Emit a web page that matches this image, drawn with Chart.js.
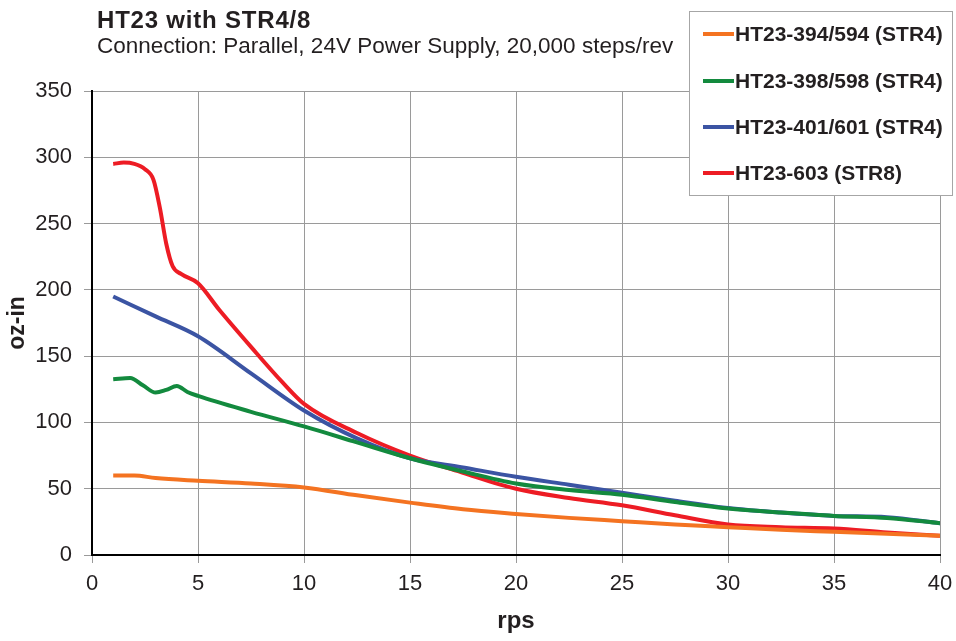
<!DOCTYPE html>
<html>
<head>
<meta charset="utf-8">
<script src="https://cdn.jsdelivr.net/npm/chart.js@4.4.1/dist/chart.umd.min.js"></script>
<style>
  body { margin: 0; background: #fff; }
  #wrap { width: 956px; height: 641px; position: relative; }
</style>
</head>
<body>
<div id="wrap"><canvas id="myChart"></canvas></div>
<script>
'use strict';

// HT23-394/594 (STR4)
let rps394 = [1, 2, 3, 5, 7.5, 10, 12.5, 15, 17.5, 20, 22.5, 25, 27.5, 30, 32.5, 35, 37.5, 40];
let torque394 = [60, 60, 58, 56, 54, 51, 45, 39.5, 34.5, 31, 28, 25.5, 23, 21, 19, 17.5, 16, 14.5];

// HT23-398/598 (STR4)
let rps398 = [1, 1.8, 2.4, 3, 3.5, 4, 4.5, 5, 7.5, 10, 12.5, 15, 17.5, 20, 22.5, 25, 27.5, 30, 32.5, 35, 37.5, 40];
let torque398 = [132.5, 133.5, 128, 122.5, 124.5, 127.5, 123, 120, 108, 97, 85, 73, 63, 54, 49, 45.5, 40, 35, 32, 29.5, 28, 24];

// HT23-401/601 (STR4)
let rps401 = [1, 3, 5, 7.5, 10, 12.5, 15, 17.5, 20, 22.5, 25, 27.5, 30, 32.5, 35, 37.5, 40];
let torque401 = [195, 180, 165, 137, 109, 88, 73, 66, 59, 53, 47, 41, 35.5, 32, 29.5, 28.5, 24];

// HT23-603 (STR8)
let rps603 = [1, 1.5, 2, 2.5, 2.9, 3.2, 3.5, 3.8, 4.2, 5, 6, 7.5, 9, 10, 12.5, 15, 17.5, 20, 22.5, 25, 27.5, 30, 32.5, 35, 37.5, 40];
let torque603 = [295, 296, 295, 291, 283, 262, 235, 218, 212, 205, 185, 157, 130, 114, 92, 75, 62, 50, 43, 37.5, 30, 23, 21, 20, 17, 14.5];

let seriesLabels = ['HT23-394/594 (STR4)', 'HT23-398/598 (STR4)', 'HT23-401/601 (STR4)', 'HT23-603 (STR8)'];
let seriesColors = ['#f47321', '#138a3e', '#3b54a3', '#ed1c24'];

let xTicks = [0, 5, 10, 15, 20, 25, 30, 35, 40];
let yTicks = [0, 50, 100, 150, 200, 250, 300, 350];

let titleText = 'HT23 with STR4/8';
let subtitleText = 'Connection: Parallel, 24V Power Supply, 20,000 steps/rev';

function toPoints(xs, ys) {
    let pts = [];
    for (let i = 0; i < xs.length; i++) {
        pts.push({ x: xs[i], y: ys[i] });
    }
    return pts;
}

let allX = [rps394, rps398, rps401, rps603];
let allY = [torque394, torque398, torque401, torque603];

let datasets = [];
for (let i = 0; i < seriesLabels.length; i++) {
    datasets.push({
        label: seriesLabels[i],
        data: toPoints(allX[i], allY[i]),
        borderColor: seriesColors[i],
        backgroundColor: seriesColors[i],
        borderWidth: 4,
        pointRadius: 0,
        cubicInterpolationMode: 'monotone',
        fill: false
    });
}

const FONT = '"Liberation Sans", Arial, sans-serif';
const TEXT = '#231f20';

// title, subtitle and the boxed legend in the top right corner
const decorPlugin = {
    id: 'decor',
    afterDraw(chart) {
        let ctx = chart.ctx;
        ctx.save();
        ctx.fillStyle = TEXT;
        ctx.textBaseline = 'middle';
        ctx.textAlign = 'left';
        ctx.font = 'bold 24px ' + FONT;
        ctx.letterSpacing = '0.8px';
        ctx.fillText(titleText, 97, 21);
        ctx.letterSpacing = '0px';
        ctx.font = '22.5px ' + FONT;
        ctx.fillText(subtitleText, 97, 47);

        // legend box
        let bx = 689.5, by = 11.5, bw = 263, bh = 184;
        ctx.fillStyle = '#fff';
        ctx.fillRect(bx, by, bw, bh);
        ctx.strokeStyle = '#a6a6a6';
        ctx.lineWidth = 1;
        ctx.strokeRect(bx, by, bw, bh);

        let rows = [34, 81, 127, 173];
        ctx.font = 'bold 21px ' + FONT;
        for (let i = 0; i < seriesLabels.length; i++) {
            ctx.strokeStyle = seriesColors[i];
            ctx.lineWidth = 4;
            ctx.beginPath();
            ctx.moveTo(703, rows[i]);
            ctx.lineTo(734, rows[i]);
            ctx.stroke();
            ctx.fillStyle = TEXT;
            ctx.fillText(seriesLabels[i], 735, rows[i] + 1);
        }
        ctx.restore();
    }
};

const config = {
    type: 'line',
    data: { datasets: datasets },
    options: {
        responsive: true,
        maintainAspectRatio: false,
        animation: false,
        layout: { padding: { top: 91, right: 0, left: 2, bottom: 5 } },
        plugins: {
            legend: { display: false },
            tooltip: { enabled: false }
        },
        scales: {
            x: {
                type: 'linear',
                min: 0,
                max: 40,
                afterBuildTicks: (axis) => { axis.ticks = xTicks.map(v => ({ value: v })); },
                afterFit: (axis) => {
                    axis.height = 81;
                    axis.paddingLeft = 0;
                    axis.paddingRight = 16;
                },
                grid: { color: '#9a9a9a', lineWidth: 1, tickLength: 8, tickColor: '#9a9a9a' },
                border: { color: '#000', width: 2 },
                ticks: { color: TEXT, font: { family: FONT, size: 22 }, padding: 8, maxRotation: 0 },
                title: {
                    display: true,
                    text: 'rps',
                    color: TEXT,
                    font: { family: FONT, size: 24, weight: 'bold' },
                    padding: { top: 10, bottom: 0 }
                }
            },
            y: {
                min: 0,
                max: 350,
                afterBuildTicks: (axis) => { axis.ticks = yTicks.map(v => ({ value: v })); },
                afterFit: (axis) => {
                    axis.width = 90;
                    axis.paddingTop = 0;
                    axis.paddingBottom = 0;
                },
                grid: { color: '#9a9a9a', lineWidth: 1, tickLength: 8, tickColor: '#9a9a9a' },
                border: { color: '#000', width: 2 },
                ticks: { color: TEXT, font: { family: FONT, size: 22 }, padding: 12 },
                title: {
                    display: true,
                    text: 'oz-in',
                    color: TEXT,
                    font: { family: FONT, size: 23, weight: 'bold' },
                    padding: { top: 2, bottom: 3 }
                }
            }
        }
    },
    plugins: [decorPlugin]
};

var myChart = new Chart(document.getElementById('myChart'), config);
</script>
</body>
</html>
